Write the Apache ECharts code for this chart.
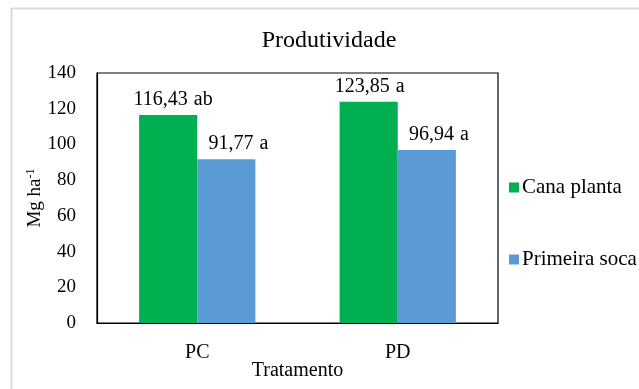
<!DOCTYPE html>
<html>
<head>
<meta charset="utf-8">
<script src="https://cdn.jsdelivr.net/npm/echarts@6/dist/echarts.min.js"></script>
<style>
  html, body { margin: 0; padding: 0; background: #fff; }
  #chart { width: 639px; height: 389px; }
</style>
</head>
<body>
<div id="chart"></div>
<script>
// Produtividade por tratamento
const categories = ['PC', 'PD'];
const canaPlanta = [116.43, 123.85];
const primeiraSoca = [91.77, 96.94];
const canaLetters = ['ab', 'a'];
const socaLetters = ['a', 'a'];
const yTicks = { min: 0, max: 140, interval: 20 };

const FONT = '"Liberation Serif", "Times New Roman", serif';

function fmt(v) { return v.toFixed(2).replace('.', ','); }

// value label: number plus the significance letters
function labelFor(letters) {
  return {
    show: true, position: 'top', distance: 5,
    fontFamily: FONT, fontSize: 20, color: '#000',
    formatter: p => '{v|' + fmt(p.value) + '}{l|' + letters[p.dataIndex] + '}',
    rich: {
      v: { fontFamily: FONT, fontSize: 20, color: '#000' },
      l: { fontFamily: FONT, fontSize: 20, color: '#000', padding: [0, 0, 0, 6] }
    }
  };
}

// labels are nudged a little to the right of the bar centres
function withOffsets(values, offsets) {
  return values.map((v, i) => ({ value: v, label: { offset: [offsets[i], 0] } }));
}

const chart = echarts.init(document.getElementById('chart'), null, { renderer: 'canvas' });

chart.setOption({
  backgroundColor: '#fff',
  animation: false,
  textStyle: { fontFamily: FONT, color: '#000' },
  title: {
    text: 'Produtividade',
    left: 324, top: 24, textAlign: 'center',
    textStyle: { fontFamily: FONT, fontSize: 24, fontWeight: 'normal', color: '#000' }
  },
  graphic: [{
    type: 'rect',
    shape: { x: 11.5, y: 8.5, width: 640, height: 400 },
    style: { fill: 'none', stroke: '#d9d9d9', lineWidth: 2 },
    silent: true
  }],
  legend: {
    orient: 'vertical',
    left: 504, top: 172,
    itemGap: 51,
    itemWidth: 10, itemHeight: 10,
    icon: 'rect',
    textStyle: { fontFamily: FONT, fontSize: 21, color: '#000', padding: [0, 0, 0, -2] },
    data: ['Cana planta', 'Primeira soca']
  },
  grid: {
    left: 97, right: 141, top: 73, bottom: 66,
    outerBoundsMode: 'none',
    show: true, borderColor: '#000', borderWidth: 1.2
  },
  xAxis: {
    type: 'category',
    data: categories,
    name: 'Tratamento',
    nameLocation: 'middle',
    nameGap: 38,
    nameMoveOverlap: false,
    nameTextStyle: { fontFamily: FONT, fontSize: 20, color: '#000' },
    axisLine: { show: true, lineStyle: { color: '#000', width: 1.2 } },
    axisTick: { show: false },
    axisLabel: { fontFamily: FONT, fontSize: 20, color: '#000', margin: 20 }
  },
  yAxis: {
    type: 'value',
    min: yTicks.min, max: yTicks.max, interval: yTicks.interval,
    name: '{n|Mg ha}{s|-1}',
    nameLocation: 'middle',
    nameGap: 51,
    nameMoveOverlap: false,
    nameRotate: 90,
    nameTextStyle: {
      rich: {
        n: { fontFamily: FONT, fontSize: 19, color: '#000' },
        s: { fontFamily: FONT, fontSize: 12, color: '#000', verticalAlign: 'top', padding: [0, 0, 9, 0] }
      }
    },
    axisLine: { show: true, lineStyle: { color: '#000', width: 1.2 } },
    axisTick: { show: false },
    splitLine: { show: false },
    axisLabel: { fontFamily: FONT, fontSize: 19, color: '#000', margin: 21, padding: [10, 0, 0, 0] }
  },
  series: [
    {
      name: 'Cana planta',
      type: 'bar',
      data: withOffsets(canaPlanta, [5, 1]),
      itemStyle: { color: '#00b050' },
      barWidth: '29%',
      barGap: '0%',
      label: labelFor(canaLetters)
    },
    {
      name: 'Primeira soca',
      type: 'bar',
      data: withOffsets(primeiraSoca, [12, 12]),
      itemStyle: { color: '#5b9bd5' },
      barWidth: '29%',
      barGap: '0%',
      label: labelFor(socaLetters)
    }
  ]
});
</script>
</body>
</html>
